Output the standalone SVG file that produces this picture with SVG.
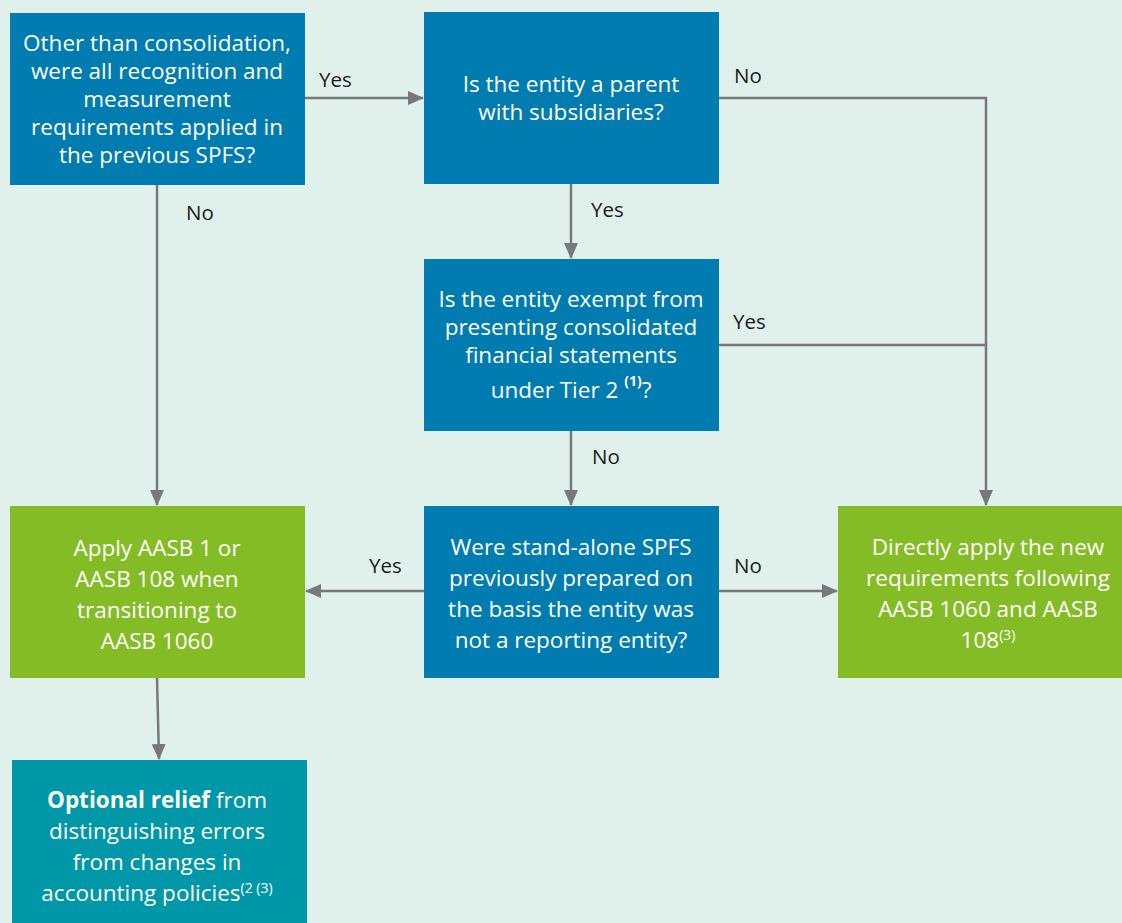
<svg xmlns="http://www.w3.org/2000/svg" width="1122" height="923" viewBox="0 0 1122 923">
<defs>
<style>
.bg{fill:#e0f1eb}
.blue{fill:#007cb0}
.green{fill:#84bc25}
.teal{fill:#0097a9}
.t{font-family:"Open Sans","Noto Sans","Liberation Sans",sans-serif;font-size:22.5px;fill:#ffffff;text-anchor:middle}
.lbl{font-family:"Open Sans","Noto Sans","Liberation Sans",sans-serif;font-size:20.5px;fill:#1a1a1a}
.c{stroke:#76787b;stroke-width:2.5;fill:none}
.sup{font-size:14px}
</style>
<marker id="ah" viewBox="0 0 16 14" refX="15" refY="7" markerWidth="16" markerHeight="14" markerUnits="userSpaceOnUse" orient="auto">
<path d="M0,0 L16,7 L0,14 Z" fill="#76787b"/>
</marker>
</defs>
<rect class="bg" x="0" y="0" width="1122" height="923"/>
<g id="connectors">
<line class="c" x1="305" y1="98" x2="423" y2="98" marker-end="url(#ah)"/>
<polyline class="c" points="719,98 986,98 986,505" marker-end="url(#ah)"/>
<line class="c" x1="719" y1="345" x2="986" y2="345"/>
<line class="c" x1="571" y1="184" x2="571" y2="258" marker-end="url(#ah)"/>
<line class="c" x1="571" y1="431" x2="571" y2="505" marker-end="url(#ah)"/>
<line class="c" x1="157" y1="185" x2="157" y2="505" marker-end="url(#ah)"/>
<line class="c" x1="424" y1="591" x2="306" y2="591" marker-end="url(#ah)"/>
<line class="c" x1="719" y1="591" x2="837" y2="591" marker-end="url(#ah)"/>
<line class="c" x1="157" y1="678" x2="159" y2="759" marker-end="url(#ah)"/>
<text class="lbl" x="319" y="87">Yes</text>
<text class="lbl" x="734" y="83">No</text>
<text class="lbl" x="186" y="220">No</text>
<text class="lbl" x="591" y="217">Yes</text>
<text class="lbl" x="733" y="329">Yes</text>
<text class="lbl" x="592" y="464">No</text>
<text class="lbl" x="369" y="573">Yes</text>
<text class="lbl" x="734" y="573">No</text>
</g>
<g id="q1">
<rect class="blue" x="10" y="13" width="295" height="172"/>
<text class="t" x="157" y="51">Other than consolidation,</text>
<text class="t" x="157" y="79">were all recognition and</text>
<text class="t" x="157" y="107">measurement</text>
<text class="t" x="157" y="135">requirements applied in</text>
<text class="t" x="157" y="163">the previous SPFS?</text>
</g>
<g id="q2">
<rect class="blue" x="424" y="12" width="295" height="172"/>
<text class="t" x="571" y="92">Is the entity a parent</text>
<text class="t" x="571" y="120">with subsidiaries?</text>
</g>
<g id="q3">
<rect class="blue" x="424" y="259" width="295" height="172"/>
<text class="t" x="571" y="307">Is the entity exempt from</text>
<text class="t" x="571" y="335">presenting consolidated</text>
<text class="t" x="571" y="363">financial statements</text>
<text class="t" x="571" y="398">under Tier 2 <tspan class="sup" font-weight="bold" dy="-12">(1)</tspan><tspan dy="12">?</tspan></text>
</g>
<g id="q4">
<rect class="blue" x="424" y="506" width="295" height="172"/>
<text class="t" x="571" y="555">Were stand-alone SPFS</text>
<text class="t" x="571" y="586">previously prepared on</text>
<text class="t" x="571" y="617">the basis the entity was</text>
<text class="t" x="571" y="648">not a reporting entity?</text>
</g>
<g id="apply-aasb1">
<rect class="green" x="10" y="506" width="295" height="172"/>
<text class="t" x="157" y="556">Apply AASB 1 or</text>
<text class="t" x="157" y="587">AASB 108 when</text>
<text class="t" x="157" y="618">transitioning to</text>
<text class="t" x="157" y="649">AASB 1060</text>
</g>
<g id="direct-apply">
<rect class="green" x="838" y="506" width="284" height="172"/>
<text class="t" x="988" y="555">Directly apply the new</text>
<text class="t" x="988" y="586">requirements following</text>
<text class="t" x="988" y="617">AASB 1060 and AASB</text>
<text class="t" x="988" y="648">108<tspan class="sup" dy="-8">(3)</tspan></text>
</g>
<g id="optional-relief">
<rect class="teal" x="12" y="760" width="295" height="163"/>
<text class="t" x="157" y="808"><tspan font-weight="bold">Optional relief</tspan> from</text>
<text class="t" x="157" y="839">distinguishing errors</text>
<text class="t" x="157" y="870">from changes in</text>
<text class="t" x="157" y="901">accounting policies<tspan class="sup" dy="-8">(2 (3)</tspan></text>
</g>
</svg>
